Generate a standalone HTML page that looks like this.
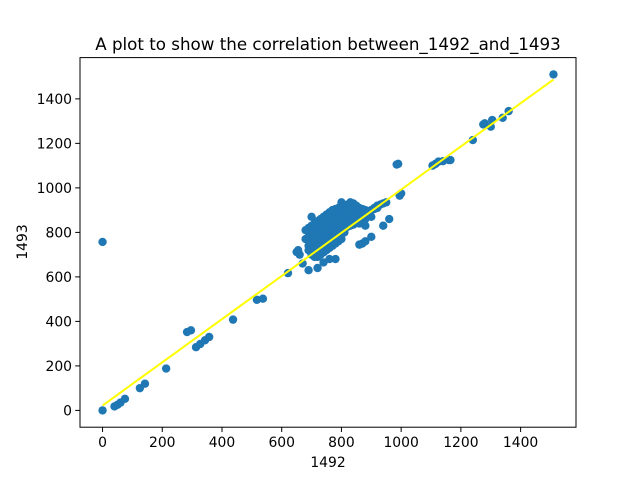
<!DOCTYPE html>
<html><head><meta charset="utf-8"><style>
body{margin:0;background:#fff}
svg text{font-family:"DejaVu Sans","Liberation Sans",sans-serif;fill:#000}
</style></head><body>
<svg id="chart" width="640" height="480" viewBox="0 0 640 480" xmlns="http://www.w3.org/2000/svg">
<rect width="640" height="480" fill="#fff"/>
<text x="328" y="50" font-size="16.7" text-anchor="middle">A plot to show the correlation between_1492_and_1493</text>
<g id="points"></g>
<g id="line"></g>
<rect x="80" y="57.6" width="496" height="369.6" fill="none" stroke="#000" stroke-width="1"/>
<g id="xticks"></g>
<g id="yticks"></g>
<text x="328" y="467" font-size="13.9" text-anchor="middle">1492</text>
<text x="0" y="0" font-size="13.9" text-anchor="middle" transform="translate(27,242) rotate(-90)">1493</text>
</svg>
<script>
const xTicks=[0,200,400,600,800,1000,1200,1400];
const yTicks=[0,200,400,600,800,1000,1200,1400];
const xVals=[0,0,40,50,60,75,125,142,213,283,296,313,327,343,357,437,517,537,621,650,655,660,670,690,700,720,740,760,780,800,830,840,860,870,880,900,940,960,990,985,1000,995,1105,1115,1125,1140,1160,1165,1240,1275,1280,1300,1305,1340,1360,1510,
680,690,700,710,720,730,740,750,760,770,780,790,800,810,820,830,840,850,860,870,880,890,900,910,920,
680,690,700,710,720,730,740,750,760,770,780,790,800,810,820,830,840,850,860,870,880,
690,700,710,720,730,740,750,760,770,780,790,800,810,820,830,840,850,860,
700,710,720,730,740,750,760,770,780,790,800,810,820,830,840,
700,710,720,730,740,750,760,770,780,790,800,810,
710,720,730,740,750,760,770,780,790,800,
690,700,710,720,730,740,750,760,770,780,790,800,810,820,830,840,850,860,870,880,890,900,910,920,930,940,950,
720,740,760,780,800,820,840,860,880,900];
const yVals=[0,757,18,25,35,52,100,120,188,352,360,284,298,315,330,408,497,502,617,712,720,700,660,630,870,640,665,680,680,935,935,930,745,750,760,780,830,860,1108,1105,975,965,1100,1108,1118,1120,1125,1125,1215,1285,1290,1275,1305,1315,1345,1510,
810,820,830,840,850,860,870,880,890,900,905,910,915,920,925,930,925,920,910,905,900,895,900,905,910,
770,780,790,800,810,820,830,840,850,860,870,880,890,895,900,900,895,890,880,870,860,
740,750,760,770,780,790,800,810,820,830,840,850,860,865,870,865,860,850,
720,730,740,750,760,770,780,790,800,805,810,820,825,830,835,
700,705,715,720,730,740,750,760,770,780,790,800,
690,690,700,710,720,730,740,750,760,770,
720,710,720,730,740,750,760,770,780,790,800,810,820,830,840,850,860,870,880,880,890,900,910,920,925,930,935,
790,800,830,850,870,880,880,840,830,870];
const lineX=[0,1510];
const lineY=[22,1487];
const NS='http://www.w3.org/2000/svg';
const X0=-75.5,X1=1585.5,Y0=-75.5,Y1=1585.5;
function sx(v){return 80+(v-X0)/(X1-X0)*496;}
function sy(v){return 427.2-(v-Y0)/(Y1-Y0)*369.6;}
const pg=document.getElementById('points');
for(let i=0;i<xVals.length;i++){
 const c=document.createElementNS(NS,'circle');
 c.setAttribute('cx',sx(xVals[i]));c.setAttribute('cy',sy(yVals[i]));
 c.setAttribute('r',4.2);c.setAttribute('fill','#1f77b4');
 
 
 pg.appendChild(c);
}
const ln=document.createElementNS(NS,'line');
ln.setAttribute('x1',sx(lineX[0]));ln.setAttribute('y1',sy(lineY[0]));
ln.setAttribute('x2',sx(lineX[1]));ln.setAttribute('y2',sy(lineY[1]));
ln.setAttribute('stroke','#ffff00');ln.setAttribute('stroke-width',2);


document.getElementById('line').appendChild(ln);
const xg=document.getElementById('xticks');
xTicks.forEach(t=>{
 const x=sx(t);
 const l=document.createElementNS(NS,'line');
 l.setAttribute('x1',x);l.setAttribute('x2',x);l.setAttribute('y1',427.2);l.setAttribute('y2',432);l.setAttribute('stroke','#000');
 
 
 xg.appendChild(l);
 const tx=document.createElementNS(NS,'text');
 tx.setAttribute('x',x);tx.setAttribute('y',447);tx.setAttribute('font-size','13.9');tx.setAttribute('text-anchor','middle');
 tx.textContent=t;
 
 
 xg.appendChild(tx);
});
const yg=document.getElementById('yticks');
yTicks.forEach(t=>{
 const y=sy(t);
 const l=document.createElementNS(NS,'line');
 l.setAttribute('x1',75.2);l.setAttribute('x2',80);l.setAttribute('y1',y);l.setAttribute('y2',y);l.setAttribute('stroke','#000');
 
 
 yg.appendChild(l);
 const tx=document.createElementNS(NS,'text');
 tx.setAttribute('x',72);tx.setAttribute('y',y+5);tx.setAttribute('font-size','13.9');tx.setAttribute('text-anchor','end');
 tx.textContent=t;
 
 
 yg.appendChild(tx);
});
</script>
</body></html>
